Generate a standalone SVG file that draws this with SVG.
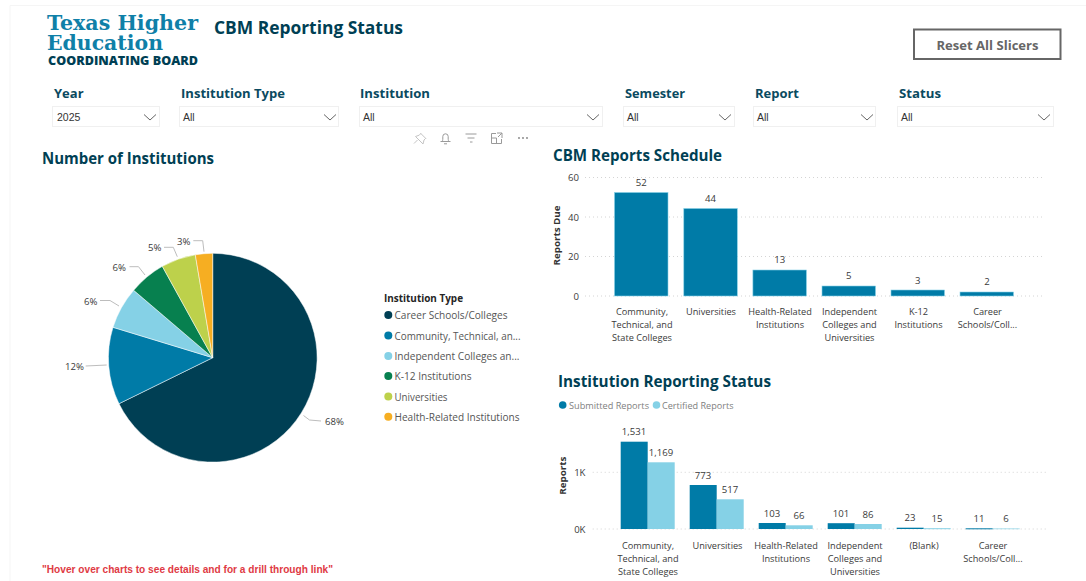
<svg xmlns="http://www.w3.org/2000/svg" width="1086" height="581" viewBox="0 0 1086 581">
<style>
text{font-family:"Open Sans","Noto Sans","Liberation Sans",sans-serif;fill:#3a3a3a;font-size:9.6px}
.m{text-anchor:middle;dominant-baseline:central}
.c{font-size:9.2px}
.l{dominant-baseline:central}
.r{text-anchor:end;dominant-baseline:central}
.title{font-weight:700;fill:#003f54;font-size:16px}
.sl{font-weight:700;fill:#0a4a60;font-size:13px}
.box{fill:#fff;stroke:#f0f0f0;stroke-width:1}
.val{font-family:"Liberation Sans",Arial,sans-serif;font-size:10.500px;fill:#333;dominant-baseline:central}
.chev{fill:none;stroke:#666;stroke-width:1}
.grid{stroke:#d4d4d4;stroke-width:1;stroke-dasharray:1 3}
.lead{fill:none;stroke:#bdbdbd;stroke-width:1}
.b1{fill:#007ba7;stroke:#85d1e6;stroke-width:.6}
.b2{fill:#007ba7}
.b3{fill:#85d1e6}
.ic{fill:none;stroke:#9a9a9a;stroke-width:1}
.axis{font-weight:700;fill:#333;font-size:9.5px;text-anchor:middle;dominant-baseline:central}
.lg{font-size:10px;fill:#555;dominant-baseline:central}
.lg2{font-size:9.4px;fill:#808080;dominant-baseline:central}
.logo{font-family:"DejaVu Serif","Liberation Serif",serif;font-weight:700;font-size:20.500px;fill:#0f80a8}
</style>
<rect width="1086" height="581" fill="#fff"/>
<path d="M10 581V5.500H1086" fill="none" stroke="#f5f5f5"/>

<g id="logo">
<text class="logo" x="47" y="30" textLength="151" lengthAdjust="spacingAndGlyphs">Texas Higher</text>
<text class="logo" x="47" y="50" textLength="116" lengthAdjust="spacingAndGlyphs">Education</text>
<text x="48" y="65" style="font-family:'Open Sans',sans-serif;font-weight:800;font-size:11.500px;fill:#003f54" textLength="150" lengthAdjust="spacingAndGlyphs">COORDINATING BOARD</text>
</g>
<g id="page-title"><text class="title" x="214" y="34" style="font-size:17.500px" textLength="189" lengthAdjust="spacingAndGlyphs">CBM Reporting Status</text></g>

<g id="reset-button">
<rect x="914" y="29.500" width="146.500" height="29.500" fill="#fff" stroke="#666" stroke-width="2"/>
<text class="m" x="987.500" y="45" style="font-weight:700;font-size:12.500px;fill:#666" textLength="102" lengthAdjust="spacingAndGlyphs">Reset All Slicers</text>
</g>

<g id="slicer-year">
<text class="sl" x="54" y="98">Year</text>
<rect class="box" x="52.500" y="106.500" width="107" height="20"/>
<text class="val" x="57" y="116.500">2025</text>
<path class="chev" d="M144 114.500l6 5.500 6-5.500"/>
</g>
<g id="slicer-institution-type">
<text class="sl" x="181" y="98" textLength="104" lengthAdjust="spacingAndGlyphs">Institution Type</text>
<rect class="box" x="179.500" y="106.500" width="159" height="20"/>
<text class="val" x="183" y="116.500">All</text>
<path class="chev" d="M324 114.500l6 5.500 6-5.500"/>
</g>
<g id="slicer-institution">
<text class="sl" x="360" y="98" textLength="70" lengthAdjust="spacingAndGlyphs">Institution</text>
<rect class="box" x="359.500" y="106.500" width="243" height="20"/>
<text class="val" x="363" y="116.500">All</text>
<path class="chev" d="M587 114.500l6 5.500 6-5.500"/>
</g>
<g id="slicer-semester">
<text class="sl" x="625" y="98" textLength="60" lengthAdjust="spacingAndGlyphs">Semester</text>
<rect class="box" x="623.500" y="106.500" width="111" height="20"/>
<text class="val" x="627" y="116.500">All</text>
<path class="chev" d="M719 114.500l6 5.500 6-5.500"/>
</g>
<g id="slicer-report">
<text class="sl" x="755" y="98" textLength="44" lengthAdjust="spacingAndGlyphs">Report</text>
<rect class="box" x="753.500" y="106.500" width="122" height="20"/>
<text class="val" x="757" y="116.500">All</text>
<path class="chev" d="M861 114.500l6 5.500 6-5.500"/>
</g>
<g id="slicer-status">
<text class="sl" x="899" y="98" textLength="42" lengthAdjust="spacingAndGlyphs">Status</text>
<rect class="box" x="897.500" y="106.500" width="156" height="20"/>
<text class="val" x="901" y="116.500">All</text>
<path class="chev" d="M1038 114.500l6 5.500 6-5.500"/>
</g>

<g id="visual-icons">
<path class="ic" style="stroke:#c4c4c4" d="M414 143.500l3.500-3.500M415.500 136.500l7.500 7.500 1-4 1.500-1.500 .5 .2-5.500-5.500 .2 .5-1.500 1.500z"/>
<path class="ic" d="M440.500 141.500h10M442 141.500c1-1 .8-3 .8-5a2.700 2.700 0 0 1 5.400 0c0 2-.2 4 .8 5M444 143.800h3"/>
<path class="ic" d="M465.500 134h11M467.500 138h7M470 142h2.500"/>
<path class="ic" d="M496 133.500h-4.500v10h10v-4.500M491.500 138h5v5.500M497 133h5v5M502 133l-4 4"/>
<g fill="#808080"><circle cx="519" cy="138" r=".9"/><circle cx="523" cy="138" r=".9"/><circle cx="527" cy="138" r=".9"/></g>
</g>

<g id="pie-chart">
<text class="title" x="42" y="164" textLength="172" lengthAdjust="spacingAndGlyphs">Number of Institutions</text>
<g stroke="#fff" stroke-width=".5">
<path fill="#003f54" d="M212.700 357.700L212.700 253.300A104.400 104.400 0 1 1 119 403.700Z"/>
<path fill="#007ba7" d="M212.700 357.700L119 403.700A104.400 104.400 0 0 1 113 327.300Z"/>
<path fill="#85d1e6" d="M212.700 357.700L113 327.300A104.400 104.400 0 0 1 133.700 290.300Z"/>
<path fill="#07804f" d="M212.700 357.700L133.700 290.300A104.400 104.400 0 0 1 162.300 266.300Z"/>
<path fill="#bdd14b" d="M212.700 357.700L162.300 266.300A104.400 104.400 0 0 1 195.300 254.800Z"/>
<path fill="#f6ae22" d="M212.700 357.700L195.300 254.800A104.400 104.400 0 0 1 212.700 253.300Z"/>
</g>
<path class="lead" d="M303.500 415.500l6 4.500 11.500 1M85.700 366l21-1M100 300.500h10l9 5.500M129.500 266.700h9l6.500 8.300M164 247.300h9.300l4 9.400M193.300 240.700h9.400l1.300 11"/>
<text class="l" x="325" y="421.700">68%</text>
<text class="l" x="65" y="366.700">12%</text>
<text class="l" x="84" y="301.700">6%</text>
<text class="l" x="112.500" y="267.300">6%</text>
<text class="l" x="148" y="247.300">5%</text>
<text class="l" x="177" y="241.300">3%</text>
</g>

<g id="pie-legend">
<text x="384" y="298" class="l" style="font-weight:700;font-size:10px;fill:#252525" textLength="79" lengthAdjust="spacingAndGlyphs">Institution Type</text>
<circle cx="388.300" cy="315" r="4" fill="#003f54"/><text class="lg" x="394.500" y="315" textLength="113" lengthAdjust="spacingAndGlyphs">Career Schools/Colleges</text>
<circle cx="388.300" cy="335.500" r="4" fill="#007ba7"/><text class="lg" x="394.500" y="335.500" textLength="126" lengthAdjust="spacingAndGlyphs">Community, Technical, an...</text>
<circle cx="388.300" cy="356" r="4" fill="#85d1e6"/><text class="lg" x="394.500" y="356" textLength="125" lengthAdjust="spacingAndGlyphs">Independent Colleges an...</text>
<circle cx="388.300" cy="376" r="4" fill="#07804f"/><text class="lg" x="394.500" y="376" textLength="77" lengthAdjust="spacingAndGlyphs">K-12 Institutions</text>
<circle cx="388.300" cy="396.500" r="4" fill="#bdd14b"/><text class="lg" x="394.500" y="396.500" textLength="53" lengthAdjust="spacingAndGlyphs">Universities</text>
<circle cx="388.300" cy="416.700" r="4" fill="#f6ae22"/><text class="lg" x="394.500" y="416.700" textLength="125" lengthAdjust="spacingAndGlyphs">Health-Related Institutions</text>
</g>

<g id="schedule-chart">
<text class="title" x="553" y="161" textLength="169" lengthAdjust="spacingAndGlyphs">CBM Reports Schedule</text>
<path class="grid" d="M585 177.500H1044M585 217H1044M585 256.500H1044M585 296H1044"/>
<text class="r" x="579" y="177.500">60</text><text class="r" x="579" y="217">40</text><text class="r" x="579" y="256.500">20</text><text class="r" x="579" y="296">0</text>
<text class="axis" transform="translate(556.500 235.500) rotate(-90)" textLength="60" lengthAdjust="spacingAndGlyphs">Reports Due</text>
<rect class="b1" x="614.500" y="192.500" width="53.500" height="103.500"/>
<rect class="b1" x="683.800" y="208.500" width="53.500" height="87.500"/>
<rect class="b1" x="752.900" y="270" width="53.500" height="26"/>
<rect class="b1" x="822" y="286" width="53.500" height="10"/>
<rect class="b1" x="891" y="290" width="53.500" height="6"/>
<rect class="b1" x="960" y="292" width="53.500" height="4"/>
<text class="m" x="641.300" y="182.300">52</text><text class="m" x="710.500" y="198.300">44</text><text class="m" x="779.700" y="259.700">13</text><text class="m" x="848.700" y="275.300">5</text><text class="m" x="917.800" y="280">3</text><text class="m" x="987" y="281.700">2</text>
<g class="cats">
<text class="m c" x="642" y="311.700">Community,</text><text class="m c" x="642" y="324.300">Technical, and</text><text class="m c" x="642" y="337">State Colleges</text>
<text class="m c" x="711" y="311.700">Universities</text>
<text class="m c" x="780" y="311.700">Health-Related</text><text class="m c" x="780" y="324.300">Institutions</text>
<text class="m c" x="849.500" y="311.700">Independent</text><text class="m c" x="849.500" y="324.300">Colleges and</text><text class="m c" x="849.500" y="337">Universities</text>
<text class="m c" x="918.500" y="311.700">K-12</text><text class="m c" x="918.500" y="324.300">Institutions</text>
<text class="m c" x="987.500" y="311.700">Career</text><text class="m c" x="987.500" y="324.300">Schools/Coll...</text>
</g>
</g>

<g id="status-chart">
<text class="title" x="558" y="386.500" textLength="213" lengthAdjust="spacingAndGlyphs">Institution Reporting Status</text>
<circle cx="562.700" cy="405" r="3.800" fill="#007ba7"/><text class="lg2" x="569" y="405" textLength="80" lengthAdjust="spacingAndGlyphs">Submitted Reports</text>
<circle cx="656.500" cy="405" r="3.800" fill="#85d1e6"/><text class="lg2" x="662" y="405" textLength="71.500" lengthAdjust="spacingAndGlyphs">Certified Reports</text>
<path class="grid" d="M592.700 472.300H1046.700M592.700 529H1046.700"/>
<text class="r" x="585.500" y="472.300">1K</text><text class="r" x="585.500" y="529">0K</text>
<text class="axis" transform="translate(562 475.700) rotate(-90)" textLength="38" lengthAdjust="spacingAndGlyphs">Reports</text>
<rect class="b2" x="620.700" y="441.700" width="27" height="87.300"/><rect class="b3" x="647.700" y="462.300" width="27" height="66.700"/>
<rect class="b2" x="689.700" y="485" width="27" height="44"/><rect class="b3" x="716.700" y="499.300" width="27" height="29.700"/>
<rect class="b2" x="758.700" y="523" width="27" height="6"/><rect class="b3" x="785.700" y="525.300" width="27" height="3.700"/>
<rect class="b2" x="827.700" y="523.200" width="27" height="5.800"/><rect class="b3" x="854.700" y="524" width="27" height="5"/>
<rect class="b2" x="896.700" y="527.700" width="27" height="1.300"/><rect class="b3" x="923.700" y="528.200" width="27" height="1"/>
<rect class="b2" x="965.700" y="528.300" width="27" height="1"/><rect class="b3" x="992.700" y="528.500" width="27" height=".7"/>
<text class="m" x="634" y="431">1,531</text><text class="m" x="661" y="452.300">1,169</text>
<text class="m" x="703" y="475">773</text><text class="m" x="730" y="489">517</text>
<text class="m" x="772" y="513">103</text><text class="m" x="799" y="515">66</text>
<text class="m" x="841" y="513">101</text><text class="m" x="868" y="514">86</text>
<text class="m" x="910" y="517">23</text><text class="m" x="937" y="518">15</text>
<text class="m" x="979" y="518">11</text><text class="m" x="1006" y="518">6</text>
<g class="cats">
<text class="m c" x="648" y="545">Community,</text><text class="m c" x="648" y="558">Technical, and</text><text class="m c" x="648" y="571">State Colleges</text>
<text class="m c" x="717.500" y="545">Universities</text>
<text class="m c" x="786" y="545">Health-Related</text><text class="m c" x="786" y="558">Institutions</text>
<text class="m c" x="855" y="545">Independent</text><text class="m c" x="855" y="558">Colleges and</text><text class="m c" x="855" y="571">Universities</text>
<text class="m c" x="924" y="545">(Blank)</text>
<text class="m c" x="993" y="545">Career</text><text class="m c" x="993" y="558">Schools/Coll...</text>
</g>
</g>

<g id="hover-note"><text x="42" y="569" class="l" style="font-family:'Liberation Sans',sans-serif;font-weight:700;font-size:10px;fill:#e03a44" textLength="291" lengthAdjust="spacingAndGlyphs">"Hover over charts to see details and for a drill through link"</text></g>
</svg>
